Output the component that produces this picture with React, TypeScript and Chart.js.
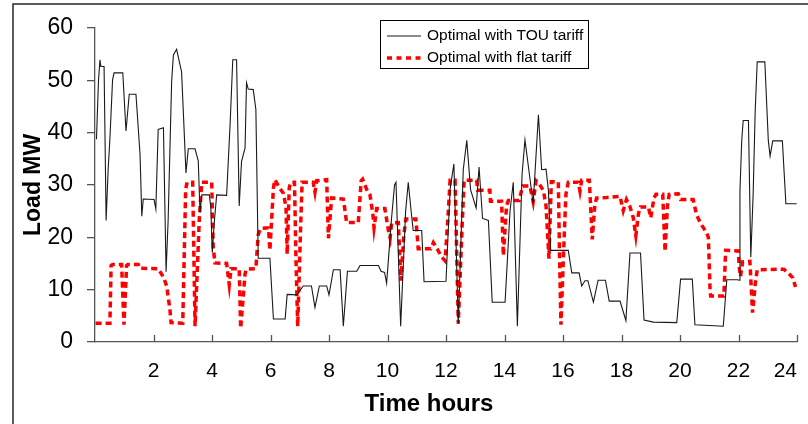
import { useEffect, useRef } from 'react';
import { Chart, registerables } from 'chart.js';

Chart.register(...registerables);

const FONT = '"Liberation Sans", Arial, sans-serif';

const SERIES_LABELS = ['Optimal with TOU tariff', 'Optimal with flat tariff'];
const X_TITLE = 'Time hours';
const Y_TITLE = 'Load MW';
const X_TICKS = [2, 4, 6, 8, 10, 12, 14, 16, 18, 20, 22, 24];
const Y_MIN = 0;
const Y_MAX = 60;
const Y_STEP = 10;

// Optimal with TOU tariff (black line)
const TOU_HOURS = [
  0.05, 0.12, 0.17, 0.2, 0.31, 0.38, 0.45, 0.51, 0.6, 0.65, 0.95, 1.06, 1.17, 1.4, 1.54, 1.6, 1.65, 2.02, 2.08, 2.16,
  2.34, 2.43, 2.5, 2.62, 2.68, 2.79, 2.96, 3.11, 3.19, 3.42, 3.53, 3.59, 3.65, 3.91, 3.96, 4.01, 4.08, 4.16, 4.5, 4.62,
  4.71, 4.84, 4.93, 5.01, 5.13, 5.18, 5.24, 5.41, 5.5, 5.58, 5.98, 6.1, 6.5, 6.57, 6.9, 7.12, 7.4, 7.52, 7.67, 7.92,
  8.0, 8.15, 8.38, 8.49, 8.63, 8.95, 9.06, 9.69, 9.78, 9.9, 9.97, 10.14, 10.24, 10.29, 10.45, 10.62, 10.71, 10.82, 10.88, 11.17,
  11.25, 12.0, 12.14, 12.27, 12.42, 12.59, 12.71, 12.84, 13.03, 13.13, 13.25, 13.45, 13.58, 14.02, 14.19, 14.3, 14.44, 14.6, 14.7, 14.98,
  15.16, 15.27, 15.42, 15.5, 15.58, 16.18, 16.3, 16.55, 16.64, 16.75, 16.85, 17.04, 17.2, 17.45, 17.58, 17.95, 18.15, 18.29, 18.65, 18.77,
  19.09, 19.89, 20.02, 20.42, 20.51, 21.48, 21.6, 21.96, 22.03, 22.05, 22.11, 22.16, 22.34, 22.42, 22.5, 22.57, 22.64, 22.9, 23.02, 23.08,
  23.17, 23.5, 23.62, 23.99,
];
const TOU_LOAD = [
  38.7, 50, 53.9, 52.6, 52.6, 23.2, 33, 38.8, 50, 51.4, 51.4, 40.3, 47.3, 47.3, 35.8, 24, 27.3, 27.2, 25.4, 40.6,
  40.9, 13.4, 23.2, 49.7, 54.8, 55.9, 51.6, 32.3, 36.9, 36.9, 34.6, 24.7, 28.1, 28.1, 25.6, 17.1, 23, 28.1, 28, 41.7,
  53.9, 53.9, 26, 34.5, 37, 49.5, 48.3, 48.2, 44.4, 16, 16, 4.4, 4.4, 9.1, 9, 10.7, 10.7, 6.6, 10.7, 10.7,
  9.0, 13.8, 13.8, 3, 13.5, 13.5, 14.6, 14.6, 13.5, 13.3, 11.2, 23.7, 30, 30.5, 3, 25, 30.5, 24.3, 21.3, 21.3,
  11.5, 11.6, 29.2, 34, 3.5, 32.9, 38.5, 29.1, 25.6, 33.4, 23.6, 23.2, 7.6, 7.6, 25.1, 30.5, 3, 32, 38.6, 26.4,
  43.4, 32.9, 33, 29, 17.5, 17.5, 13.2, 13.2, 10.7, 11.7, 11.7, 7.6, 11.8, 11.8, 7.8, 7.8, 4.1, 17, 17, 4.2,
  3.8, 3.7, 12, 12, 3.3, 3.0, 11.9, 11.9, 11.8, 28.9, 38.4, 42.3, 42.3, 16.2, 28, 44, 53.5, 53.5, 38.4, 35.5,
  38.4, 38.4, 26.4, 26.4,
];

// Optimal with flat tariff (red dashed line)
const FLAT_HOURS = [
  0.02, 0.51, 0.55, 0.6, 0.91, 0.99, 1.08, 1.12, 1.48, 1.52, 2.16, 2.34, 2.45, 2.56, 2.6, 3.0, 3.1, 3.15, 3.34, 3.42,
  3.57, 3.65, 3.99, 4.04, 4.1, 4.5, 4.59, 4.65, 4.93, 4.98, 5.13, 5.18, 5.5, 5.58, 5.66, 5.93, 5.98, 6.1, 6.15, 6.3,
  6.44, 6.53, 6.57, 6.64, 6.69, 6.82, 6.87, 6.93, 7.03, 7.08, 7.46, 7.52, 7.58, 7.92, 7.98, 8.09, 8.49, 8.55, 8.6, 9.0,
  9.1, 9.15, 9.3, 9.4, 9.5, 9.54, 9.63, 9.91, 10.03, 10.09, 10.14, 10.37, 10.46, 10.56, 10.63, 10.97, 11.05, 11.48, 11.57, 11.7,
  11.82, 11.97, 12.08, 12.14, 12.31, 12.42, 12.55, 12.62, 13.05, 13.08, 13.5, 13.52, 13.9, 13.96, 14.07, 14.13, 14.5, 14.62, 14.87, 14.98,
  15.08, 15.2, 15.33, 15.42, 15.52, 15.6, 15.84, 15.88, 15.93, 16.04, 16.1, 16.18, 16.52, 16.58, 16.64, 16.9, 17.0, 17.09, 17.15, 17.5,
  17.95, 18.06, 18.17, 18.28, 18.4, 18.49, 18.58, 18.65, 18.92, 19.0, 19.11, 19.18, 19.41, 19.49, 19.57, 19.63, 19.94, 20.02, 20.45, 20.57,
  20.74, 20.9, 20.97, 21.03, 21.05, 21.5, 21.56, 21.99, 22.03, 22.07, 22.14, 22.39, 22.48, 22.57, 22.64, 23.55, 23.7, 23.85, 23.95,
];
const FLAT_LOAD = [
  3.6, 3.6, 14.6, 14.8, 14.8, 3.3, 14.6, 14.8, 14.8, 14.1, 14, 12.4, 10.7, 6.3, 3.7, 3.6, 29.2, 30.5, 30.5, 3,
  24, 30.5, 30.5, 18.2, 15.1, 15, 10.9, 14, 14, 2.6, 13, 13.9, 14, 20.5, 21.7, 21.8, 17.5, 29.4, 31, 29.5,
  28.4, 25.8, 16.8, 29.4, 30.5, 30.5, 16, 3, 22, 30.5, 30.5, 28.6, 30.8, 31, 19.8, 27.5, 27.3, 25, 22.8, 22.8,
  30.8, 31.1, 29, 28.1, 24.4, 21.8, 25.5, 25.5, 21.3, 19.9, 22.7, 22.8, 11.7, 20.5, 23.5, 23.5, 17.8, 17.8, 19, 17.8,
  16.5, 15.5, 25, 30.9, 30.9, 3.5, 22, 30.9, 30.9, 29, 29, 26.9, 26.9, 16.5, 26, 27, 27, 29.8, 29.8, 26.8,
  30.8, 30.1, 28.9, 26, 15.9, 30.6, 30.6, 17, 3.3, 20, 28.2, 30.5, 30.5, 28.8, 30.9, 30.9, 19.6, 26.3, 27.5, 27.6,
  27.8, 25.1, 27.2, 26, 23.8, 20.3, 24.5, 25.8, 25.8, 23.7, 27.5, 28.2, 28.2, 17.3, 26, 28.2, 28.3, 27.2, 27.2, 24.2,
  22.3, 21, 20, 9.5, 8.8, 8.8, 17.5, 17.4, 14, 12.5, 15.3, 15.4, 5.6, 11, 13.8, 13.9, 13.2, 12.3, 10.5,
];

const COLORS = ['#1a1a1a', '#ff0000'];
const DASH = [6, 4];

const overlayPlugin = {
  id: 'overlay',
  afterDraw(chart: any) {
    const ctx = chart.ctx as CanvasRenderingContext2D;
    const xs = chart.scales.x;
    const area = chart.chartArea;
    ctx.save();
    // inside tick marks on x axis
    ctx.strokeStyle = '#555';
    ctx.lineWidth = 1.3;
    ctx.beginPath();
    X_TICKS.forEach((v) => {
      const px = Math.round(xs.getPixelForValue(v)) + 0.5;
      ctx.moveTo(px, area.bottom);
      ctx.lineTo(px, area.bottom - 7);
    });
    ctx.stroke();

    // outer frame
    ctx.strokeStyle = '#333';
    ctx.lineWidth = 1.6;
    ctx.strokeRect(13, 4, 820, 440);

    // x axis title
    ctx.fillStyle = '#000';
    ctx.font = `bold 24px ${FONT}`;
    ctx.textAlign = 'center';
    ctx.textBaseline = 'middle';
    ctx.fillText(X_TITLE, 429, 404);

    // legend
    const bx = 380.5, by = 20.5, bw = 208, bh = 48;
    ctx.fillStyle = '#fff';
    ctx.fillRect(bx, by, bw, bh);
    ctx.strokeStyle = '#000';
    ctx.lineWidth = 1;
    ctx.strokeRect(bx, by, bw, bh);
    const rows = [36, 58];
    chart.data.datasets.forEach((ds: any, i: number) => {
      const y = rows[i];
      ctx.save();
      ctx.strokeStyle = ds.borderColor;
      ctx.lineWidth = i === 0 ? 1.1 : 3.5;
      ctx.setLineDash(i === 0 ? [] : [5, 4.5]);
      ctx.beginPath();
      ctx.moveTo(387, y);
      ctx.lineTo(i === 0 ? 421 : 425, y);
      ctx.stroke();
      ctx.restore();
      ctx.fillStyle = '#000';
      ctx.font = `15.5px ${FONT}`;
      ctx.textAlign = 'left';
      ctx.textBaseline = 'middle';
      ctx.fillText(ds.label, 427, y);
    });
    ctx.restore();
  },
};

export default function App() {
  const ref = useRef<HTMLCanvasElement | null>(null);

  useEffect(() => {
    if (!ref.current) return;
    Chart.defaults.font.family = FONT;
    const chart = new Chart(ref.current, {
      type: 'line',
      data: {
        datasets: [
          {
            label: SERIES_LABELS[0],
            data: TOU_HOURS.map((x, i) => ({ x, y: TOU_LOAD[i] })),
            borderColor: COLORS[0],
            borderWidth: 1.1,
            pointRadius: 0,
            tension: 0,
            fill: false,
          },
          {
            label: SERIES_LABELS[1],
            data: FLAT_HOURS.map((x, i) => ({ x, y: FLAT_LOAD[i] })),
            borderColor: COLORS[1],
            borderWidth: 3.5,
            borderDash: DASH,
            pointRadius: 0,
            tension: 0,
            fill: false,
          },
        ],
      },
      options: {
        animation: false,
        responsive: false,
        devicePixelRatio: 1,
        layout: { padding: { left: 0, right: 11, top: 26, bottom: 0 } },
        plugins: { legend: { display: false }, tooltip: { enabled: false } },
        scales: {
          x: {
            type: 'linear',
            min: 0,
            max: 24,
            afterBuildTicks: (s: any) => {
              s.ticks = [0, ...X_TICKS].map((v) => ({ value: v }));
            },
            ticks: {
              callback: (v: any) => (v === 0 ? '' : String(v)),
              font: { size: 21 },
              color: '#000',
              padding: 0,
              align: 'inner',
              maxRotation: 0,
              autoSkip: false,
            },
            grid: {
              display: true,
              drawOnChartArea: false,
              drawTicks: true,
              tickLength: 17,
              color: 'rgba(0,0,0,0)',
            },
            border: { display: true, color: '#555', width: 1.3 },
            afterFit: (s: any) => {
              s.height = 82;
            },
          },
          y: {
            min: Y_MIN,
            max: Y_MAX,
            ticks: { stepSize: Y_STEP, font: { size: 23 }, color: '#000', padding: 14 },
            grid: { drawOnChartArea: false, drawTicks: true, tickLength: 8, color: '#555', lineWidth: 1.3 },
            border: { display: true, color: '#555', width: 1.3 },
            title: {
              display: true,
              text: Y_TITLE,
              font: { size: 23, weight: 'bold' },
              color: '#000',
              padding: { top: 20, bottom: 0 },
            },
            afterFit: (s: any) => {
              s.width = 95;
            },
          },
        },
      } as any,
      plugins: [overlayPlugin],
    });
    return () => chart.destroy();
  }, []);

  return (
    <div style={{ position: 'fixed', left: 0, top: 0, width: 808, height: 424, background: '#fff' }}>
      <canvas ref={ref} width={808} height={424} style={{ display: 'block' }} />
    </div>
  );
}
